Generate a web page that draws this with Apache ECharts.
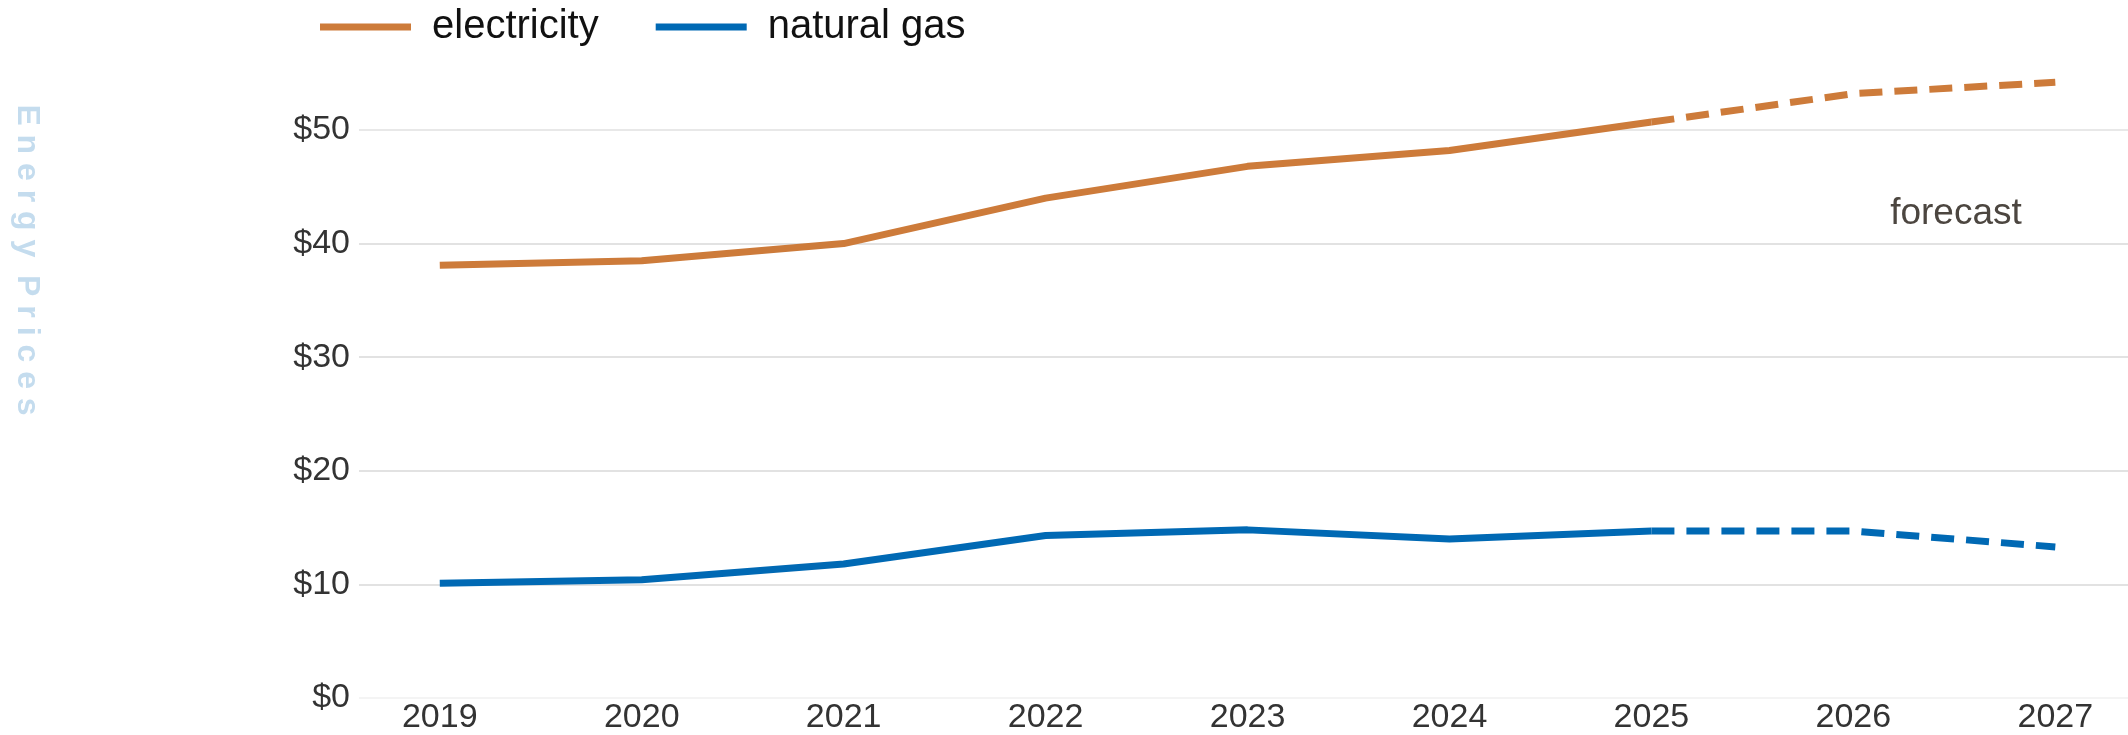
<!DOCTYPE html>
<html>
<head>
<meta charset="utf-8">
<script src="https://cdn.jsdelivr.net/npm/echarts@6/dist/echarts.min.js"></script>
<style>
  html, body { margin: 0; padding: 0; background: #fff; }
  #chart { width: 2128px; height: 735px; }
</style>
</head>
<body>
<div id="chart"></div>
<script>
const years = [2019, 2020, 2021, 2022, 2023, 2024, 2025, 2026, 2027];
const electricity = [38.1, 38.5, 40.0, 44.0, 46.8, 48.2, 50.7, 53.2, 54.2];
const naturalGas = [10.1, 10.4, 11.8, 14.3, 14.8, 14.0, 14.7, 14.7, 13.3];
const forecastFrom = 2025;
const yTicks = [0, 10, 20, 30, 40, 50];

const font = 'Liberation Sans, Arial, sans-serif';
const orange = '#cd7b3a';
const blue = '#0069b4';

// solid part up to the forecast year, dashed part from it
function part(values, forecast) {
  return years
    .map((y, i) => [y, values[i]])
    .filter(p => forecast ? p[0] >= forecastFrom : p[0] <= forecastFrom);
}

function lineSeries(name, values, color, forecast) {
  return {
    name: name,
    type: 'line',
    data: part(values, forecast),
    symbol: 'none',
    clip: false,
    itemStyle: { color: color },
    lineStyle: {
      color: color,
      width: 7,
      type: forecast ? [23, 12] : 'solid'
    },
    emphasis: { disabled: true }
  };
}

const myChart = echarts.init(document.getElementById('chart'));
myChart.setOption({
  animation: false,
  grid: { left: 359, right: 0, top: 130, bottom: 35 },
  legend: {
    left: 315,
    top: 2,
    data: ['electricity', 'natural gas'],
    icon: 'rect',
    itemWidth: 91,
    itemHeight: 7,
    itemGap: 57,
    textStyle: {
      fontFamily: font,
      fontSize: 40,
      color: '#111',
      padding: [0, 0, 0, 16]
    }
  },
  xAxis: {
    type: 'value',
    min: 2018.6,
    max: 2027.36,
    splitLine: { show: false },
    axisTick: { show: false },
    axisLine: { show: false },
    axisLabel: {
      customValues: years,
      formatter: v => String(v),
      fontFamily: font,
      fontSize: 34,
      color: '#333',
      margin: 3
    }
  },
  yAxis: {
    type: 'value',
    min: yTicks[0],
    max: yTicks[yTicks.length - 1],
    interval: 10,
    axisLine: { show: false },
    axisTick: { show: false },
    axisLabel: {
      formatter: v => '$' + v,
      fontFamily: font,
      fontSize: 34,
      color: '#333',
      margin: 9
    },
    splitLine: {
      lineStyle: {
        color: ['#f4f4f4', '#e2e2e2', '#e2e2e2', '#e2e2e2', '#e2e2e2', '#e8e8e8'],
        width: 2
      }
    }
  },
  graphic: [
    {
      type: 'text',
      x: 27,
      y: 260,
      rotation: -Math.PI / 2,
      style: {
        text: 'E n e r g y  P r i c e s',
        fontFamily: font,
        fontWeight: 'bold',
        fontSize: 32,
        fill: '#c4dcee',
        textAlign: 'center',
        textVerticalAlign: 'middle'
      }
    },
    {
      type: 'text',
      x: 1956,
      y: 214,
      style: {
        text: 'forecast',
        fontFamily: font,
        fontSize: 37,
        fill: '#4c4640',
        textAlign: 'center',
        textVerticalAlign: 'middle'
      }
    }
  ],
  series: [
    lineSeries('electricity', electricity, orange, false),
    lineSeries('electricity', electricity, orange, true),
    lineSeries('natural gas', naturalGas, blue, false),
    lineSeries('natural gas', naturalGas, blue, true)
  ]
});
</script>
</body>
</html>
